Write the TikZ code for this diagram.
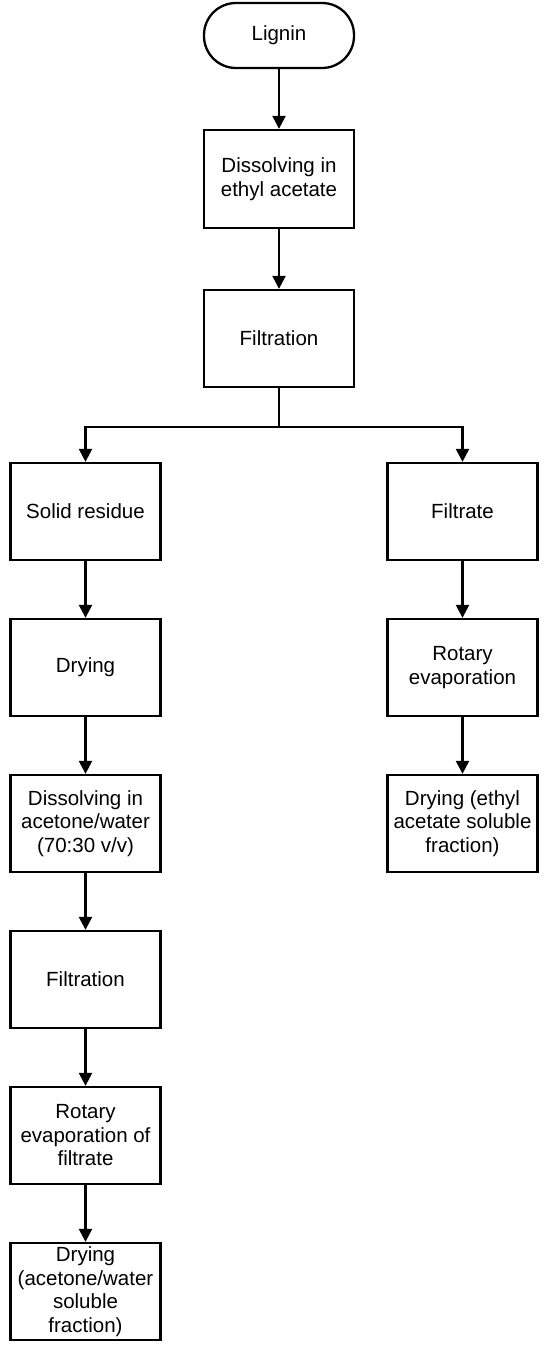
\documentclass[tikz,border=0pt]{standalone}
\usepackage{fontspec}
\setmainfont{Liberation Sans}
\usetikzlibrary{arrows.meta}
\begin{document}
\begin{tikzpicture}[x=1pt,y=1pt,
  box/.style={draw=black, line width=2.3pt, rectangle, minimum width=150pt, minimum height=97pt, inner sep=1pt, align=center, font=\fontsize{20.5}{23.5}\selectfont},
  term/.style={box, rounded corners=32pt, minimum height=65pt},
  conn/.style={line width=2.3pt, -{Triangle[width=13pt,length=13pt]}},
  plain/.style={line width=2.3pt}]
\useasboundingbox (0,0) rectangle (550,-1349);
\node[term] (lig) at (279,-35.5) {Lignin};
\node[box, minimum height=98pt] (diss) at (279,-179) {Dissolving in\\ethyl acetate};
\node[box] (filt) at (279,-338.5) {Filtration};
\coordinate (br) at (279,-427);
\node[box] (solid) at (85.5,-511.5) {Solid residue};
\node[box] (filtrate) at (462.5,-511.5) {Filtrate};
\node[box] (dry1) at (85.5,-667.5) {Drying};
\node[box] (rot1) at (462.5,-667.5) {Rotary\\evaporation};
\node[box] (diss2) at (85.5,-823.5) {Dissolving in\\acetone/water\\(70:30 v/v)};
\node[box] (dry2) at (462.5,-823.5) {Drying (ethyl\\acetate soluble\\fraction)};
\node[box] (filt2) at (85.5,-979.5) {Filtration};
\node[box] (rot2) at (85.5,-1135.5) {Rotary\\evaporation of\\filtrate};
\node[box] (dry3) at (85.5,-1291.5) {Drying\\(acetone/water\\soluble\\fraction)};
\draw[conn] (lig) -- (diss);
\draw[conn] (diss) -- (filt);
\draw[plain] (filt) -- (br);
\draw[conn] (br) -| (solid);
\draw[conn] (br) -| (filtrate);
\draw[conn] (solid) -- (dry1);
\draw[conn] (dry1) -- (diss2);
\draw[conn] (diss2) -- (filt2);
\draw[conn] (filt2) -- (rot2);
\draw[conn] (rot2) -- (dry3);
\draw[conn] (filtrate) -- (rot1);
\draw[conn] (rot1) -- (dry2);
\end{tikzpicture}
\end{document}
